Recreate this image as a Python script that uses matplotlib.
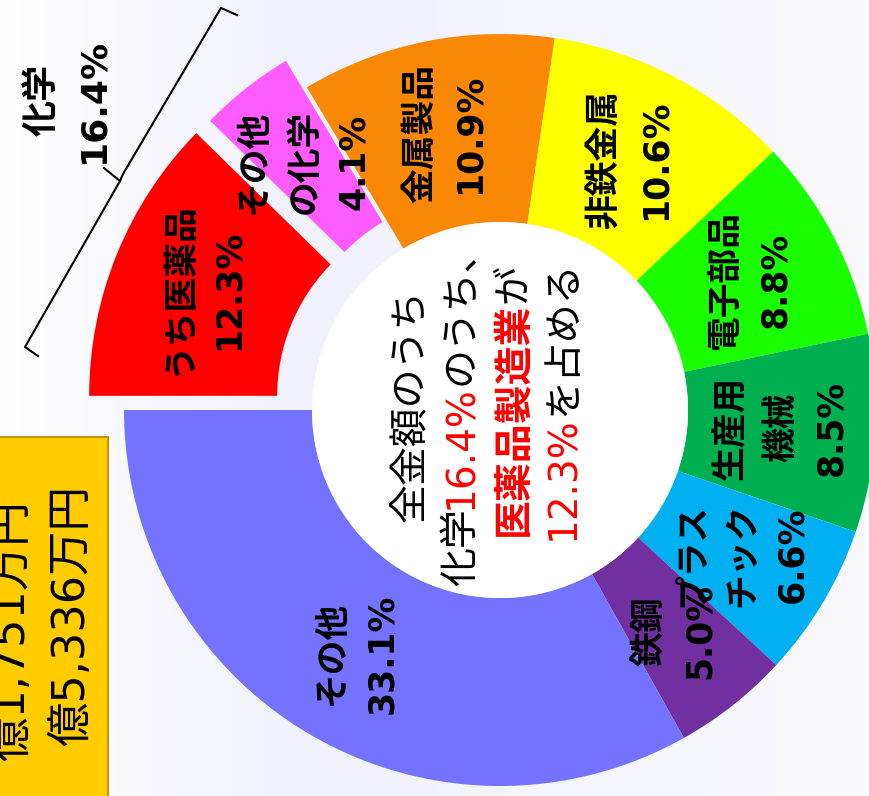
import numpy as np
import matplotlib
matplotlib.use("Agg")
import matplotlib.pyplot as plt
from matplotlib.patches import Rectangle, Circle

# wide latin digits first, japanese glyphs fall back to Noto
plt.rcParams['font.family'] = ['DejaVu Sans', 'Noto Sans CJK JP']

# data
industries = ["うち医薬品", "その他\nの化学", "金属製品", "非鉄金属", "電子部品",
              "生産用\n機械", "プラス\nチック", "鉄鋼", "その他"]
shares = [12.3, 4.1, 10.9, 10.6, 8.8, 8.5, 6.6, 5.0, 33.1]
colors = ["#ff0000", "#ff5cff", "#fa8805", "#ffff00", "#1aff00",
          "#00b050", "#00b0f0", "#7030a0", "#7373ff"]
pulled = [0.1, 0.09, 0, 0, 0, 0, 0, 0, 0]
chem_total = 16.4
pharma = 12.3
totals = ["億1,751万円", "億5,336万円"]

W, H = 870, 796
CX, CY = 500, 410
R = 376
HOLE = 188
RED = "#ff0000"


def text_width(fig, s, size, weight):
    r = fig.canvas.get_renderer()
    t = fig.text(0, 0, s, fontsize=size, fontweight=weight)
    w = t.get_window_extent(r).width
    t.remove()
    return w


def draw_line(fig, ax, x, y, parts, size):
    # rotated line of text built from coloured pieces, centred on y
    widths = [text_width(fig, s, size, wt) for s, c, wt in parts]
    pos = y + sum(widths) / 2
    for (s, c, wt), w in zip(parts, widths):
        ax.text(x + size * 0.5, pos, s, color=c, fontsize=size, fontweight=wt,
                rotation=90, rotation_mode='anchor', ha='left', va='baseline', zorder=5)
        pos -= w


def main():
    fig = plt.figure(figsize=(W / 100, H / 100), dpi=100)
    ax = fig.add_axes([0, 0, 1, 1])

    # background
    grad = np.interp(np.arange(W), [0, 300, W], [1.0, 0.0, 0.6])
    c0 = np.array([1.0, 1.0, 1.0])
    c1 = np.array([0.945, 0.945, 0.99])
    img = c1[None, None, :] + (c0 - c1)[None, None, :] * grad[None, :, None]
    img = np.repeat(img, 4, axis=0)
    ax.imshow(img, extent=[0, W, H, 0], aspect='auto', zorder=0)

    labels = [f"{n}\n{v:.1f}%" for n, v in zip(industries, shares)]
    wedges, texts = ax.pie(shares, labels=labels, colors=colors,
                           explode=[p * R for p in pulled],
                           startangle=180, counterclock=True,
                           center=(CX, CY), radius=R, labeldistance=0.75,
                           wedgeprops=dict(width=R - HOLE, linewidth=0),
                           textprops=dict(fontsize=25, fontweight='bold',
                                          rotation=90, rotation_mode='anchor'))
    for t in texts:
        t.set_ha('center')
        t.set_va('center')
        t.set_multialignment('center')
        t.set_linespacing(1.6)
        t.set_zorder(5)
    ax.add_patch(Circle((CX, CY), HOLE, facecolor='white', edgecolor='none', zorder=1))

    ax.set_xlim(0, W)
    ax.set_ylim(H, 0)
    ax.set_aspect('auto')
    ax.axis('off')

    # centre message
    k = 'black'
    draw_line(fig, ax, 407, 405, [("全金額のうち", k, 'normal')], 28)
    draw_line(fig, ax, 458, 408, [("化学", k, 'normal'), (f"{chem_total}%", RED, 'normal'),
                                 ("のうち、", k, 'normal')], 28)
    draw_line(fig, ax, 510, 400, [("医薬品製造業", RED, 'bold'), ("が", k, 'normal')], 28)
    draw_line(fig, ax, 560, 400, [(f"{pharma}%", RED, 'normal'), ("を占める", k, 'normal')], 28)

    # chemical brace
    ax.plot([38, 25, 120, 104], [356, 347, 181, 168], color='black', lw=1.5, zorder=4)
    ax.plot([120, 123, 221, 237], [181, 174, 8, 15], color='black', lw=1.5, zorder=4)
    ax.text(68, 100, f"化学\n{chem_total}%", fontsize=26, fontweight='bold',
            rotation=90, rotation_mode='anchor', ha='center', va='center',
            multialignment='center', linespacing=1.65, zorder=5)

    # total amount box
    ax.add_patch(Rectangle((-5, 437), 113, 370, facecolor='#ffcc00',
                           edgecolor='#b89a10', lw=1.5, zorder=3))
    ax.text(8 + 16, 500, totals[0], fontsize=32, rotation=90, rotation_mode='anchor',
            ha='right', va='baseline', zorder=5)
    ax.text(68 + 16, 485, totals[1], fontsize=32, rotation=90, rotation_mode='anchor',
            ha='right', va='baseline', zorder=5)

    fig.savefig("out.png", dpi=100)


if __name__ == "__main__":
    main()
